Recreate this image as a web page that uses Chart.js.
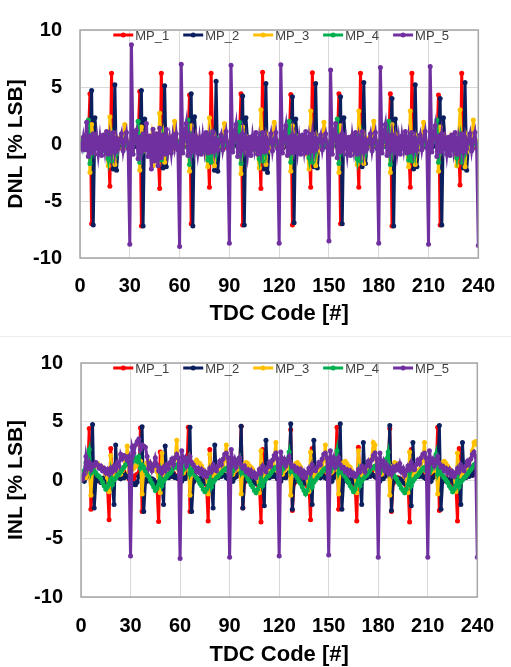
<!DOCTYPE html>
<html>
<head>
<meta charset="utf-8">
<script src="https://cdn.jsdelivr.net/npm/chart.js@4.4.1/dist/chart.umd.min.js"></script>
<style>
  body { margin: 0; background: #fff; }
  .panel { position: absolute; left: 0; width: 511px; }
  #top { top: 0; height: 333px; }
  #bottom { top: 333px; height: 334px; }
  #sep { position: absolute; left: 0; top: 336px; width: 511px; height: 1px; background: #ececec; }
</style>
</head>
<body>
<div class="panel" id="top"><canvas id="dnlChart"></canvas></div>
<div id="sep"></div>
<div class="panel" id="bottom"><canvas id="inlChart"></canvas></div>
<script>
// TDC codes 0..240 (one point per code)
const codes = Array.from({ length: 241 }, (_, i) => i);
const xTicks = [0, 30, 60, 90, 120, 150, 180, 210, 240];
const yTicks = [-10, -5, 0, 5, 10];
const seriesNames = ['MP_1', 'MP_2', 'MP_3', 'MP_4', 'MP_5'];
const seriesColors = ['#ff0000', '#0b1f5e', '#ffc000', '#00b050', '#7030a0'];

// DNL [% LSB], one row per 30 codes
const dnlMp1 = [
  0,.1,-.2,-.3,.1,.3,4.4,-7,-.3,.2,.4,-.1,.3,-.2,.1,-.3,-.5,.2,-3.7,6.2,.3,-.2,.4,-.1,.2,-.3,.1,.4,-.2,.1,
  .2,-.1,.3,-.2,.1,.4,4.6,-7.2,-.2,.3,.1,-.3,.4,-.1,.2,-.4,.1,-.6,-3.9,6.2,.2,-.1,.3,.2,-.2,.1,-.3,.3,.1,-.1,
  .1,-.2,.2,-.1,.3,.2,4.3,-7,-.4,.1,.3,-.2,.2,-.1,.3,-.2,-.4,.1,-3.8,6.2,.3,-.2,.2,-.3,.1,.2,-.1,.3,-.2,.2,
  .1,.2,-.3,.1,.2,-.1,.3,4.4,-7.1,.2,.3,-.2,.1,-.3,.2,-.1,-.4,.2,.1,-3.9,6.3,.2,-.2,.3,-.1,.1,-.2,.3,.1,-.2,
  .2,-.1,.1,-.2,.3,.1,.2,4.35,-7.1,-.2,.3,.1,-.2,.2,-.1,.3,-.5,.1,.2,-3.8,6.25,.1,-.3,.2,.1,-.2,.3,-.1,.2,.1,
  .1,-.2,.2,.3,-.1,.2,4.4,-7,-.3,.2,.1,-.2,.3,-.1,.2,-.2,-.4,.1,-3.8,6.2,.2,-.1,.3,-.2,.1,.2,-.2,.3,-.1,.2,
  .2,.1,-.2,.1,.3,-.1,.2,4.4,-7.2,.1,.3,-.2,.2,-.1,.1,-.3,-.5,.2,.1,-3.8,6.2,.2,-.1,.3,-.2,.1,-.2,.2,.1,-.1,
  .1,-.2,.3,-.1,.2,.1,4.3,-7.1,-.2,.3,.1,-.2,.2,-.3,.1,-.2,-.4,.1,.2,-3.6,6.2,.1,-.2,.3,-.1,.2,-.1,.3,-.2,.1,
  0
];
const dnlMp2 = [
  -.1,.2,-.2,.1,-.3,.2,.1,4.7,-7.1,2.3,.4,-.2,.3,-.1,.2,-.3,.1,-.2,.3,-.5,-2.2,5.2,-2.3,-.4,.2,-.1,.3,-.2,.1,.2,
  -.2,.1,.3,-.2,.1,-.3,.2,4.7,-7.2,2.2,.3,-.1,.2,-.3,.1,.2,-.2,.1,-.4,.2,-2.1,5.1,-2,-.3,.1,.2,-.2,.3,-.1,.1,
  .2,-.1,.1,-.2,.3,.1,-.2,4.4,-7.2,2.4,.2,-.3,.1,.2,-.1,.3,-.2,.1,.2,-.4,-.3,-2.3,5.5,-2.4,-.2,.1,.3,-.1,.2,-.1,
  .1,.2,-.2,.1,-.1,.3,.2,.1,4.2,-7.1,2.3,.3,-.2,.1,-.3,.2,-.1,.3,-.2,.1,-.4,-2.2,5.3,-2.5,-.3,.2,-.1,.3,.1,-.2,
  -.1,.2,.1,-.2,.3,-.1,.2,.1,4.15,-6.9,2.2,.2,-.1,.3,-.2,.1,.2,-.3,.1,-.2,-.3,-2,5.3,-2.1,-.2,.1,.3,-.2,.1,.2,
  .1,-.2,.2,.1,-.1,.2,-.2,4.15,-7,2.3,.3,-.2,.1,.2,-.3,.1,-.1,.2,.1,-.3,-2,5.4,-1.7,-.3,.2,-.1,.2,.3,-.2,.1,
  .2,-.1,.1,-.2,.2,.1,-.1,.2,4,-7.2,2.2,.2,-.3,.1,-.1,.3,-.2,.1,.2,-.1,-.3,-2.2,5.2,-2,-.2,.3,-.1,.2,-.2,.1,
  -.1,.1,.2,-.2,.1,-.1,.3,4,-7.1,2.3,.2,-.1,.3,-.2,.1,-.2,.2,-.1,.1,.2,-.3,-2.1,5.4,-2.3,-.2,.1,.2,-.1,.3,-.1,
  -.2
];
const dnlMp3 = [
  0,.3,-.2,.4,.2,1.3,-2.5,1.7,.5,-.3,.6,.2,-.3,.4,-.2,.3,-.8,-1.9,2.4,-.5,.8,-1.8,.3,-.4,.5,.2,-.3,1.7,.3,-.2,
  .2,-.3,.4,.1,.3,1.4,-2.3,1.5,.6,-.2,.5,.3,-.4,.6,-1.9,.3,-.6,-1.7,2.7,-.4,.6,-1.6,.4,-.3,.6,.1,-.2,2,.4,-.3,
  .1,.2,-.3,.5,.1,1.2,-2.4,1.6,.4,-.2,.7,.1,-.2,.3,-.3,.2,-.7,-2,2.3,-.5,.7,-1.9,.3,-.3,.4,.3,-.2,1.8,.2,-.1,
  .2,-.2,.3,.2,.4,.2,1.4,-2.6,1.5,.5,-.3,.5,.2,-.3,.4,-.2,.2,-.8,-2.1,3,-.4,.9,-1.8,.4,-.3,.5,.1,1.9,.3,-.2,
  .1,.3,-.2,.4,.2,.1,1.3,-2.4,1.6,.4,-.2,.6,.3,-.4,.3,-.1,.2,-.7,-2.2,2.9,-.5,.8,-1.9,.3,-.4,.4,.2,1.9,.3,-.1,
  .2,.1,-.3,.3,.2,1.4,-2.5,1.6,.5,-.3,.5,.2,-.2,.4,-.3,.3,-.6,-1.8,2.9,-.5,.7,-1.7,.4,-.3,.5,.2,-.2,2,.4,-.2,
  .1,.2,-.2,.4,.1,.2,1.3,-2.5,1.7,.4,-.2,.6,.1,-.3,.4,-.2,.3,-.8,-2,2.9,-.4,.8,-1.8,.3,-.3,.4,.2,1.9,.3,-.1,
  .2,-.3,.3,.2,.3,1.2,-2.4,1.5,.5,-.2,.6,.2,-.3,.5,-.2,.2,-.7,-1.9,.2,3,-.5,.8,-2,.4,-.3,.5,.1,2.1,.4,-.2,
  .1
];
const dnlMp4 = [
  0,.2,-.3,.5,.2,2.1,-1.7,.8,-.5,.3,.4,-.2,.3,-.3,.2,-.6,-.3,-1.3,.8,-1.5,.5,-.3,-.8,.4,.2,.3,-.2,.4,.1,-.1,
  .1,-.2,.3,.4,.1,2,-1.6,.7,-.4,.3,.5,-.3,.2,-.2,.3,-.5,-.4,-1.2,.7,-1.4,.6,-.2,-.7,.3,.2,.4,-.1,.3,.2,-.2,
  .2,.1,-.2,.5,.3,2.1,-1.8,.9,-.5,.2,.4,-.2,.3,-.3,.1,-.6,-.3,-1.4,.8,-1.6,.5,-.3,-.9,.4,.1,.3,-.2,.5,.1,-.1,
  .1,.2,-.3,.4,.2,.3,1.9,-1.7,.8,-.4,.3,.4,-.2,.3,-.2,.2,-.5,-.4,-1.3,.9,-1.5,.4,-.8,.3,.2,.3,-.1,.4,.2,-.1,
  .2,-.1,.2,.5,.1,.2,2,-1.6,.8,-.5,.2,.5,-.3,.2,-.3,.1,-.6,-.3,-1.2,.8,-1.6,.5,-.7,.4,.1,.4,-.2,.3,.1,-.2,
  .1,.2,-.2,.4,.3,2.2,-1.7,.7,-.4,.3,.4,-.2,.2,-.2,.2,-.5,-.4,-1.3,.7,-1.5,.6,-.3,-.8,.3,.2,.3,-.1,.4,.2,-.1,
  .2,.1,-.3,.5,.2,.2,2,-1.8,.8,-.5,.3,.4,-.3,.3,-.2,.1,-.6,-.3,-1.4,.8,-1.5,.5,-.8,.4,.2,.3,-.2,.4,.1,-.2,
  .1,-.2,.3,.4,.2,2.1,-1.6,.8,-.4,.2,.5,-.2,.3,-.3,.2,-.5,-.3,-1.2,.2,.8,-1.6,.5,-.7,.3,.1,.4,-.1,.3,.2,-.1,
  0
];
const dnlMp5 = [
  0,-.4,.6,-.5,1.9,-1.1,.7,-.8,.9,-.4,.6,-.9,.5,-1,.8,-.5,1.1,-.9,.6,-.6,1,-.7,.5,-.4,.3,.9,-.6,.3,1,-.4,
  -8.8,8.7,-.9,.8,1.2,-1.3,.6,-.7,.9,-.5,1.8,-1.1,.7,-2.2,1.3,-1.5,.9,-1.9,1.4,-1.2,.8,-.9,1.3,-.6,.5,-.8,.7,-.3,.9,-.5,
  -9,7,-.8,.9,1.8,-1,.6,-.7,.8,-.5,.6,-.8,.5,-.9,.7,-.5,1,-.8,.6,-.7,1.1,-.6,.4,-.5,.3,.8,-.5,.4,1.1,-.3,
  -8.7,6.9,-.7,.8,1.7,-1.1,.7,-.6,.9,-.4,.5,-.9,.6,-1,.7,-.4,1,-.9,.5,-.6,1,-.7,.6,-.4,.2,.9,-.6,.3,1,-.4,
  -8.7,6.95,-.8,.7,1.6,-1,.6,-.8,.8,-.5,.6,-.8,.5,-.9,.8,-.5,1.1,-.8,.6,-.5,.9,-.6,.5,-.3,.3,.8,-.5,.4,.9,-.3,
  -8.5,6.5,-.9,.8,1.8,-1.2,.7,-.7,.9,-.4,.5,-.9,.6,-1,.7,-.5,1,-.9,.5,-.6,1.1,-.7,.4,-.4,.3,.9,-.6,.3,1,-.4,
  -8.7,6.7,-.8,.9,1.7,-1,.6,-.6,.8,-.5,.6,-.8,.5,-.9,.7,-.4,1.1,-.8,.6,-.7,1,-.6,.5,-.5,.2,.8,-.5,.4,1.1,-.3,
  -8.8,6.8,-.7,.8,1.6,-1.1,.7,-.7,.9,-.4,.5,-.9,.6,-1,.8,-.5,1,-.9,.5,-.6,.9,-.7,.6,-.4,.3,.9,-.6,.3,1,-.4,
  -8.9
];

// INL [% LSB]
const inlMp1 = [
  0,.1,.2,.3,.5,4.4,-2.5,-.3,-.2,0,.2,.1,-.2,-.1,.1,-.3,-.4,-3.4,2.7,.2,.4,.3,.5,.3,.6,.4,.7,.5,.3,.1,
  .2,.3,.1,.4,.5,.6,4.45,-2.7,-.2,-.1,.1,.2,-.1,-.2,0,-.3,-.5,-3.55,2.4,.3,.5,.2,.6,.4,.5,.3,.6,.4,.2,.1,
  .1,.2,.3,.2,.4,4.5,-2.7,-.3,-.1,.1,.2,0,-.2,-.1,.1,-.2,-.4,-3.5,2.6,.3,.4,.3,.5,.4,.6,.5,.7,.4,.3,.2,
  .1,.2,.2,.4,.3,.5,.6,4.6,-2.4,-.2,0,.1,.2,-.1,-.2,.1,-.3,-.4,-.2,-3.6,2.6,.3,.5,.4,.6,.4,.7,.5,.3,.1,
  .2,.1,.3,.3,.5,.4,.6,4.3,-2.6,-.3,-.1,.1,.2,-.2,-.1,0,-.3,-.5,-.3,-3.4,2.7,.2,.4,.3,.5,.4,.6,.5,.2,.1,
  .1,.2,.3,.4,.5,4.5,-2.5,-.2,-.1,0,.2,.1,-.2,-.1,.1,-.3,-.4,-3.5,2.8,.2,.4,.3,.5,.3,.6,.5,.7,.4,.3,.2,
  .1,.3,.2,.4,.5,.4,.6,4.4,-2.7,-.3,-.1,.1,.2,-.1,-.2,.1,-.3,-.5,-.2,-3.6,2.6,.3,.4,.3,.6,.4,.7,.5,.3,.1,
  .2,.1,.3,.4,.5,.6,4.5,-2.6,-.2,-.1,.1,.2,-.1,-.2,0,-.3,-.4,-.3,-3.5,2.7,.3,.5,.3,.6,.4,.7,.5,.4,.6,1,
  .5
];
const inlMp2 = [
  0,.1,-.1,.2,.3,.6,.5,4.75,-2.4,-.1,.2,.1,-.2,0,.2,-.1,-.3,-.2,.1,-.4,-2.1,3,.2,.3,.1,.4,.2,.5,.3,.2,
  -.2,-.4,-.3,-.4,-.2,.3,.5,4.55,-2.7,-.2,.1,.2,-.1,.1,0,-.2,-.3,-.1,.2,-.3,-2.1,2.9,.3,.2,.4,.3,.5,.2,.3,.1,
  .1,-.1,.2,.1,.3,.5,4.5,-2.7,-.2,0,.2,.1,-.1,.2,-.1,-.3,-.2,.1,-.2,-.4,-2.4,3,.3,.2,.4,.3,.5,.4,.2,.1,
  .2,.1,-.1,.2,.3,.4,.6,4.6,-2.4,-.1,.1,.2,-.1,0,.2,-.2,-.3,-.1,.2,-.3,-.2,-2.2,3.4,.3,.2,.4,.3,.5,.3,.1,
  .1,-.1,.2,.3,.2,.5,.6,4.8,-2.5,-.2,.1,.2,-.1,.1,-.2,-.3,-.1,.2,-.2,-.4,-2.1,3.4,.2,.3,.4,.2,.5,.3,.2,.1,
  .1,.2,-.1,.2,.4,.5,.6,4.8,-2.5,-.1,.2,.1,-.2,0,.1,-.2,-.3,-.1,.1,-.3,-2.1,3.2,.3,.2,.4,.3,.5,.4,.3,.2,
  .1,-.1,.2,.1,.3,.4,.5,4.65,-2.6,-.2,.1,.2,-.1,.1,0,-.2,-.3,-.2,.2,-.3,-2.2,3.2,.2,.3,.4,.3,.5,.3,.2,.1,
  .1,.2,-.1,.2,.3,.5,.6,4.65,-2.5,-.1,.2,.1,-.2,0,.2,-.1,-.3,-.2,.1,-.4,-2.1,3.2,.3,.2,.4,.3,.5,.4,.6,.8,
  .3
];
const inlMp3 = [
  0,.1,.3,.2,.6,1.4,-1.3,.8,1.1,1.3,1.4,1.2,1,1.1,.8,.5,.2,-1,2.1,.3,.5,.2,.4,.7,.5,.8,1.1,1.5,2.9,.7,
  .6,.9,1,1.2,1.3,1.5,1.6,-1.2,1,1.3,1.5,1.6,1.4,1.2,1.3,1,.7,.3,-1.1,2.3,.5,.3,.6,.8,.7,1,1.3,1.8,3.4,.9,
  .5,.7,.6,.9,1,1.6,-1.3,1,1.3,1.5,1.7,1.5,1.4,1.2,.9,.6,.3,-1.2,2.2,.4,.6,.3,.5,.8,.6,.9,1.2,1.7,3,.8,
  .4,.6,.5,.8,.9,1,1.5,-1.2,1,1.3,1.5,1.4,1.2,1.1,.9,.6,.3,.1,-1.1,2.5,.5,.3,.6,.8,.7,1,1.3,1.8,3.2,.8,
  .5,.6,.5,.8,1,1.1,1.6,-1.3,1,1.2,1.4,1.5,1.3,1.1,.8,.6,.3,.1,-1,2.4,.4,.3,.5,.8,.6,.9,1.2,1.7,3,.7,
  .5,.6,.7,.9,1,1.5,-1.2,1,1.3,1.5,1.6,1.4,1.2,1.1,.8,.5,.3,-1.1,2.5,.5,.4,.6,.8,.7,1,1.3,1.8,3.2,3,.8,
  .5,.6,.5,.8,.9,1.1,1.5,-1.3,1,1.2,1.5,1.4,1.2,1,.8,.6,.3,.1,-1.1,2.4,.4,.3,.5,.8,.6,.9,1.2,1.7,3.2,.7,
  .5,.6,.7,.8,1,1.6,-1.2,1.1,1.3,1.5,1.6,1.4,1.2,1,.8,.5,.3,-1,2.3,.4,.3,.6,.8,.7,1,1.3,1.8,2.5,3.2,3.3,
  3
];
const inlMp4 = [
  0,.3,.8,1.5,2,2.6,.6,1,.8,.6,.4,.3,.1,-.2,-.5,-.8,-.6,-.3,.7,-.4,0,.2,.4,.5,.7,.9,1.1,1.3,1.5,1.4,
  1.2,1.5,1.7,1.9,1.6,2,1,1.3,1.1,.8,.5,.3,0,-.3,-.6,-.9,-.7,-.4,.6,-.5,-.1,.1,.3,.5,.6,.8,1,1.2,1.3,1,
  .4,.6,.9,1.2,1.5,1.8,.5,.9,.7,.4,.2,0,-.3,-.5,-.8,-1,-.8,-.5,.5,-.6,-.2,0,.2,.3,.5,.6,.8,.9,1,.8,
  .3,.5,.8,1.1,1.4,1.6,1.9,.6,.9,.6,.4,.1,-.1,-.4,-.6,-.9,-1.1,-.8,-.5,.5,-.5,-.1,.1,.3,.4,.6,.8,1,1.1,.9,
  .3,.6,.9,1.2,1.5,1.8,2.4,.7,1,.7,.4,.2,-.1,-.3,-.6,-.9,-1.2,-.9,-.5,.6,-.6,-.2,0,.2,.4,.5,.7,.9,1,.8,
  .4,.7,1,1.3,1.6,2.5,.6,1,.8,.5,.3,0,-.2,-.5,-.7,-1,-.8,-.4,.6,-.5,-.1,.1,.3,.4,.6,.8,1,1.1,1.2,.9,
  .3,.6,.9,1.2,1.5,1.8,2.4,.6,.9,.6,.3,.1,-.2,-.4,-.7,-.9,-1.1,-.8,-.4,.6,-.5,-.1,.1,.3,.4,.6,.8,1,1.1,.8,
  .4,.6,.9,1.2,1.5,2.2,.5,.9,.7,.4,.2,0,-.2,-.5,-.7,-1,-.8,-.5,.5,-.6,-.2,0,.2,.3,.5,.7,.9,1.1,1.3,1.4,
  1.5
];
const inlMp5 = [
  0,.1,.5,2,1,1.5,.9,1.3,1.2,1.5,1.3,1,1.2,.8,1,.6,.9,.5,1,.7,1.2,.9,1.5,1.2,2.2,1.8,2.1,2,1.7,2,
  -6.5,2.8,2.3,3,3.3,3.5,2.6,3,2.9,2.8,2,1,1.4,.8,1.2,1.9,1.3,.8,1,.6,1.1,.8,1.3,1,1.5,1.8,1.3,1.9,2.2,1.9,
  -6.7,2.5,1.6,1.9,1.2,1.6,2,1.5,1.3,1.1,.7,1,.6,.9,.4,.7,.3,.6,1,.7,1.3,1,.8,1.2,1.6,1.3,1.8,2.2,2.3,1.9,
  -6.6,2.6,1.4,1.8,1.1,1.5,1.9,1.3,1,1.2,.7,.9,.5,.8,.3,.6,.2,.5,.9,.6,1.2,.9,.7,1.1,1.5,1.2,1.7,2.1,2.3,1.8,
  -6.5,2.4,1.5,1.8,1.2,1.6,2,1.4,1.1,1.2,.8,1,.6,.9,.3,.7,.2,.6,1,.6,1.3,.9,.8,1.1,1.5,1.3,1.8,2.2,2.3,1.9,
  -6.4,2.5,1.4,1.9,1.1,1.5,1.9,1.3,1,1.1,.7,.9,.5,.8,.4,.6,.3,.5,.9,.7,1.2,1,.7,1.2,1.6,1.2,1.7,2.1,2.3,1.8,
  -6.6,2.3,1.2,1.6,.8,1.3,.6,1,.5,1.1,.8,1.2,.9,1.4,.7,1,.4,.8,1.2,.9,1.5,1.1,.9,1.3,1.7,1.4,1.9,2.2,2.3,1.9,
  -6.6,2.5,1.5,1.8,1.2,1.6,2,1.4,1.1,1.2,.8,1,.6,.9,.4,.7,.3,.6,1,.7,1.3,1,.8,1.2,1.6,1.3,1.8,2.2,2.4,2,
  -6.6
];

const FONT = "'Liberation Sans', Arial, sans-serif";

// legend drawn inside the plot, centred along the top edge
const insideLegend = {
  id: 'insideLegend',
  afterDatasetsDraw(chart) {
    const { ctx, chartArea } = chart;
    ctx.save();
    ctx.font = '13px ' + FONT;
    const symW = 20, gap = 2, space = 14;
    const widths = seriesNames.map(n => symW + gap + ctx.measureText(n).width);
    const total = widths.reduce((a, b) => a + b, 0) + space * (widths.length - 1);
    let x = (chartArea.left + chartArea.right) / 2 - total / 2 + 2;
    const y = chartArea.top + 5;
    seriesNames.forEach((name, i) => {
      ctx.strokeStyle = seriesColors[i];
      ctx.fillStyle = seriesColors[i];
      ctx.lineWidth = 3;
      ctx.beginPath();
      ctx.moveTo(x, y);
      ctx.lineTo(x + symW, y);
      ctx.stroke();
      ctx.beginPath();
      ctx.arc(x + symW / 2, y, 2.5, 0, Math.PI * 2);
      ctx.fill();
      ctx.fillStyle = '#404040';
      ctx.textBaseline = 'middle';
      ctx.textAlign = 'left';
      ctx.fillText(name, x + symW + gap, y + 1);
      x += widths[i] + space;
    });
    ctx.restore();
  }
};

// grey frame round the plot area
const plotFrame = {
  id: 'plotFrame',
  afterDraw(chart) {
    const { ctx, chartArea } = chart;
    ctx.save();
    ctx.strokeStyle = '#a6a6a6';
    ctx.lineWidth = 1.5;
    ctx.strokeRect(chartArea.left, chartArea.top, chartArea.right - chartArea.left, chartArea.bottom - chartArea.top);
    ctx.restore();
  }
};

function makeChart(id, yTitle, series, lay) {
  const datasets = series.map((vals, i) => ({
    label: seriesNames[i],
    data: vals,
    borderColor: seriesColors[i],
    backgroundColor: seriesColors[i],
    pointBackgroundColor: seriesColors[i],
    borderWidth: 3,
    pointRadius: 2.5,
    pointBorderWidth: 0,
    tension: 0,
    order: series.length - i // MP_5 drawn last, on top
  }));

  return new Chart(document.getElementById(id), {
    type: 'line',
    data: { labels: codes, datasets: datasets },
    options: {
      responsive: true,
      maintainAspectRatio: false,
      animation: false,
      layout: { padding: { top: lay.top, right: lay.right, left: 0, bottom: 0 } },
      plugins: { legend: { display: false }, tooltip: { enabled: false } },
      scales: {
        x: {
          type: 'linear',
          min: 0,
          max: 240,
          afterBuildTicks: s => { s.ticks = xTicks.map(v => ({ value: v })); },
          afterFit: s => { s.height = lay.xAxisH; },
          grid: { color: '#d9d9d9', lineWidth: 1, drawTicks: false },
          border: { display: false },
          ticks: { color: '#000', padding: lay.xTickPad, maxRotation: 0, font: { family: FONT, size: 20, weight: 'bold' } },
          title: {
            display: true, text: 'TDC Code [#]', color: '#000',
            font: { family: FONT, size: 22, weight: 'bold', lineHeight: 1.1 },
            padding: { top: 0, bottom: lay.xTitlePad }
          }
        },
        y: {
          min: -10,
          max: 10,
          afterBuildTicks: s => { s.ticks = yTicks.map(v => ({ value: v })); },
          afterFit: s => { s.width = lay.yAxisW; },
          grid: { color: '#d9d9d9', lineWidth: 1, drawTicks: false },
          border: { display: false },
          ticks: { color: '#000', padding: 18, font: { family: FONT, size: 20, weight: 'bold' } },
          title: {
            display: true, text: yTitle, color: '#000',
            font: { family: FONT, size: 21, weight: 'bold', lineHeight: 1.2 },
            padding: { top: 4, bottom: 0 }
          }
        }
      }
    },
    plugins: [plotFrame, insideLegend]
  });
}

makeChart('dnlChart', 'DNL [% LSB]', [dnlMp1, dnlMp2, dnlMp3, dnlMp4, dnlMp5],
  { top: 13, right: 20, yAxisW: 80, xAxisH: 75, xTickPad: 16, xTitlePad: 7 });
makeChart('inlChart', 'INL [% LSB]', [inlMp1, inlMp2, inlMp3, inlMp4, inlMp5],
  { top: 15, right: 19, yAxisW: 81, xAxisH: 70, xTickPad: 17, xTitlePad: 0 });
</script>
</body>
</html>
